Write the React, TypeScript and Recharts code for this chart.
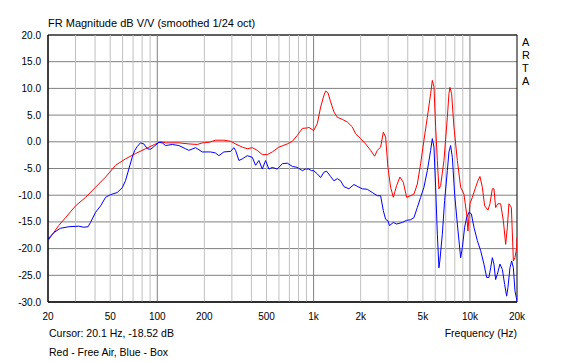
import React from "react";
import {
  LineChart,
  Line,
  XAxis,
  YAxis,
  CartesianGrid,
  ReferenceLine,
  ReferenceArea,
} from "recharts";

// Frequency response. Hz / dB pairs per curve.
const redFreq = [
  20, 23.4, 25.9, 30, 34.8, 40.3, 46.7, 54.1, 62.6, 72.6,
  84.1, 96, 105, 113, 118.6, 137.5, 159.3, 180.3, 194.1, 213.9,
  236, 266.8, 294.4, 317, 349.9, 376.5, 405.3, 436.4, 469.7, 505.6,
  544.2, 599.8, 678.8, 730.6, 786.6, 847, 911, 933, 1000, 1056,
  1109, 1164, 1193, 1235, 1285, 1349, 1418, 1526, 1643, 1768,
  1857, 1998, 2151, 2316, 2456, 2556, 2684, 2792, 2888, 2988,
  3109, 3235, 3396, 3566, 3749, 3936, 4174, 4383, 4608, 4837,
  5079, 5339, 5606, 5748, 5886, 6034, 6186, 6335, 6494, 6819,
  7170, 7340, 7447, 7636, 7900, 8307, 8721, 9154, 9526, 9710,
  10000, 10360, 10880, 11250, 11590, 12000, 12420, 13040, 13430, 13910,
  14240, 14600, 15100, 15720, 16360, 16920, 17350, 17760, 18410, 18960,
  19410, 19900, 20000,
];
const redDb = [
  -18.5, -15.7, -14.2, -12.0, -10.4, -8.5, -6.6, -4.4, -3.2, -2.2,
  -1.3, -0.5, 0.0, -0.2, -0.2, -0.2, -0.4, -0.5, -0.2, -0.1,
  0.3, 0.3, 0.1, -0.4, -1.0, -1.3, -1.1, -1.6, -2.4, -2.4,
  -1.9, -1.0, -0.4, 0.1, 1.2, 2.5, 2.6, 2.7, 2.1, 3.4,
  6.5, 8.7, 9.5, 9.2, 7.5, 5.6, 4.6, 4.2, 3.7, 2.8,
  1.5, 0.6, -0.4, -1.6, -2.7, -1.6, -1.0, 1.8, 0.9, -4.8,
  -8.5, -10.4, -8.2, -6.6, -7.6, -10.4, -10.1, -9.8, -7.9, -4.1,
  0.3, 4.6, 9.0, 11.5, 10.3, 2.8, -3.5, -8.8, -8.2, -3.5,
  4.6, 9.0, 10.2, 9.0, 2.8, -3.5, -8.5, -9.8, -13.5, -16.7,
  -11.6, -10.4, -8.5, -7.3, -6.5, -8.5, -12.0, -12.8, -11.6, -8.8,
  -8.8, -12.3, -11.6, -11.6, -14.8, -19.2, -16.0, -11.6, -12.3, -22.3,
  -21.7, -19.8, -17.9,
];

const blueFreq = [
  20, 21.8, 24.0, 27.2, 31.5, 33.9, 36.1, 37.4, 40.3, 43.4,
  46.7, 50.2, 55.4, 59.7, 62.6, 65.8, 69.1, 71.8, 74.4, 78.1,
  82.0, 86.3, 90.6, 95.1, 102.4, 107.6, 113, 124.7, 137.5, 151.7,
  159.3, 175.8, 194.1, 219.3, 236, 247.8, 266.8, 294.4, 309.1, 317,
  332.8, 349.9, 376.5, 405.3, 425.5, 446.7, 469.7, 493.1, 517.6, 544.2,
  585.9, 630.6, 678.8, 730.6, 786.6, 847, 888.7, 933.2, 967, 1000,
  1056, 1109, 1164, 1211, 1285, 1349, 1418, 1488, 1563, 1682,
  1811, 1920, 2049, 2206, 2374, 2556, 2684, 2792, 2888, 2988,
  3060, 3235, 3396, 3694, 3936, 4174, 4383, 4608, 4837, 5079,
  5339, 5606, 5748, 5886, 6034, 6186, 6335, 6420, 6659, 6889,
  7170, 7340, 7524, 7716, 7982, 8307, 8721, 8942, 9249, 9526,
  9854, 10210, 10610, 11150, 11710, 12290, 12790, 13230, 13570, 13910,
  14240, 14600, 14970, 15560, 16120, 16670, 17170, 17500, 18030, 18490,
  18960, 19410, 19900, 20000,
];
const blueDb = [
  -18.2, -17.0, -16.2, -15.9, -15.8, -16.0, -15.9, -15.1, -13.2, -12.0,
  -10.4, -9.9, -9.5, -8.6, -7.3, -5.1, -2.9, -1.6, -0.9, -0.2,
  -0.4, -1.3, -1.4, -0.9, -0.1, -0.2, -0.7, -0.5, -0.7, -1.3,
  -1.6, -1.1, -1.9, -1.9, -2.1, -2.6, -1.9, -1.8, -1.1, -1.6,
  -3.5, -3.2, -2.6, -2.9, -4.4, -3.5, -5.1, -3.5, -5.1, -4.8,
  -5.1, -4.1, -4.0, -4.6, -4.8, -5.4, -5.1, -5.1, -5.4, -5.4,
  -6.0, -6.7, -5.7, -5.5, -6.5, -7.3, -6.9, -7.3, -8.4, -8.8,
  -8.0, -8.4, -8.8, -8.9, -9.5, -10.1, -10.1, -12.9, -14.5, -14.8,
  -15.7, -15.1, -15.4, -15.1, -14.7, -14.6, -14.2, -12.3, -10.4, -8.5,
  -5.4, -1.6, 0.6, -1.0, -8.5, -17.3, -23.6, -22.3, -17.3, -11.0,
  -5.4, -1.9, -0.7, -2.9, -9.8, -15.4, -21.7, -19.8, -16.0, -14.2,
  -13.2, -13.5, -16.0, -18.5, -20.4, -22.9, -25.4, -25.4, -23.6, -21.7,
  -22.9, -25.8, -24.8, -22.9, -23.9, -26.7, -28.9, -27.3, -23.6, -22.3,
  -23.6, -27.9, -29.5, -29.8,
];

const xTicks = [20, 50, 100, 200, 500, 1000, 2000, 5000, 10000, 20000];
const yTicks = [-30, -25, -20, -15, -10, -5, 0, 5, 10, 15, 20];
const minorFreqs = [
  30, 40, 50, 60, 70, 80, 90,
  200, 300, 400, 500, 600, 700, 800, 900,
  2000, 3000, 4000, 5000, 6000, 7000, 8000, 9000,
];
const majorFreqs = [100, 1000, 10000];
const artaLetters = ["A", "R", "T", "A"];

const red = redFreq.map((f, i) => ({ f, db: redDb[i] }));
const blue = blueFreq.map((f, i) => ({ f, db: blueDb[i] }));

const FONT = 'Arial, "Liberation Sans", sans-serif';
const TICK = { fill: "#000", fontSize: 10, fontFamily: FONT };

const fmtFreq = (v: number) => (v >= 1000 ? `${v / 1000}k` : `${v}`);

const textStyle: React.CSSProperties = {
  position: "absolute",
  fontFamily: FONT,
  color: "#000",
  whiteSpace: "nowrap",
};

export default function App() {
  return (
    <div
      style={{
        position: "absolute",
        left: 0,
        top: 0,
        width: 566,
        height: 362,
        background: "#fff",
        overflow: "hidden",
      }}
    >
      <LineChart
        width={566}
        height={362}
        margin={{ top: 35, right: 49, bottom: 40, left: 0 }}
      >
        <CartesianGrid vertical={false} stroke="#808080" />
        {minorFreqs.map((f) => (
          <ReferenceLine key={f} x={f} stroke="#c0c0c0" />
        ))}
        {majorFreqs.map((f) => (
          <ReferenceLine key={f} x={f} stroke="#808080" />
        ))}
        <XAxis
          type="number"
          dataKey="f"
          scale="log"
          domain={[20, 20000]}
          allowDataOverflow
          ticks={xTicks}
          tickFormatter={fmtFreq}
          interval={0}
          height={20}
          tickLine={false}
          tickSize={0}
          tickMargin={11}
          axisLine={{ stroke: "#000" }}
          tick={TICK}
        />
        <YAxis
          type="number"
          domain={[-30, 20]}
          allowDataOverflow
          ticks={yTicks}
          interval={0}
          width={48}
          tickLine={false}
          tickSize={0}
          tickMargin={7}
          tickFormatter={(v: number) => v.toFixed(1)}
          axisLine={{ stroke: "#000" }}
          tick={TICK}
        />
        <ReferenceArea
          x1={20}
          x2={20000}
          y1={-30}
          y2={20}
          fill="none"
          fillOpacity={0}
          stroke="#000"
        />
        <Line
          data={red}
          dataKey="db"
          type="linear"
          stroke="#ff0000"
          strokeWidth={1}
          dot={false}
          isAnimationActive={false}
        />
        <Line
          data={blue}
          dataKey="db"
          type="linear"
          stroke="#0000ff"
          strokeWidth={1}
          dot={false}
          isAnimationActive={false}
        />
      </LineChart>

      <div style={{ ...textStyle, left: 48, top: 17.5, fontSize: 11, lineHeight: "11px" }}>
        FR Magnitude dB V/V (smoothed 1/24 oct)
      </div>
      {artaLetters.map((ch, i) => (
        <div
          key={i}
          style={{ ...textStyle, left: 522, top: 37 + i * 13, fontSize: 11, lineHeight: "11px" }}
        >
          {ch}
        </div>
      ))}
      <div style={{ ...textStyle, left: 49, top: 328, fontSize: 10.5, lineHeight: "10.5px" }}>
        Cursor: 20.1 Hz, -18.52 dB
      </div>
      <div
        style={{
          ...textStyle,
          right: 566 - 517,
          top: 328,
          fontSize: 10.5,
          lineHeight: "10.5px",
        }}
      >
        Frequency (Hz)
      </div>
      <div style={{ ...textStyle, left: 49, top: 347, fontSize: 10.5, lineHeight: "10.5px" }}>
        Red - Free Air, Blue - Box
      </div>
    </div>
  );
}
